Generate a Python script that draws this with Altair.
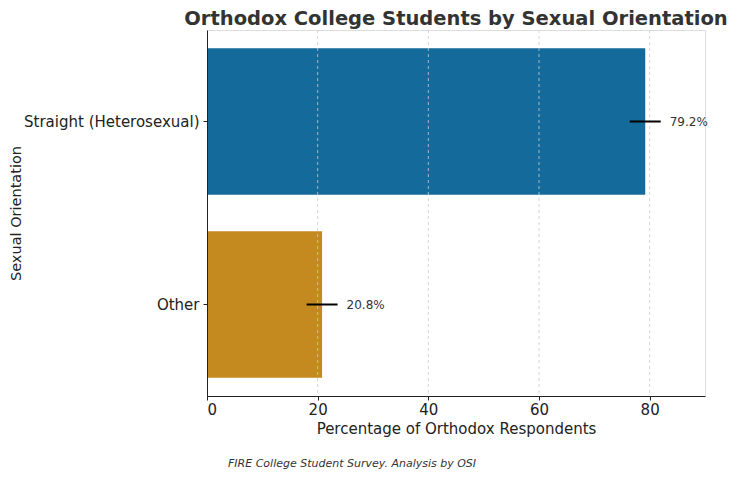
import altair as alt
import pandas as pd

categories = ["Straight (Heterosexual)", "Other"]
values = [79.2, 20.8]
errors = [2.8, 2.8]
colors = ["#146a9a", "#c4891f"]
labels = ["79.2%", "20.8%"]
x_ticks = [0, 20, 40, 60, 80]

df = pd.DataFrame({
    "cat": categories,
    "val": values,
    "lo": [v - e for v, e in zip(values, errors)],
    "hi": [v + e for v, e in zip(values, errors)],
    "label": labels,
})
grid_df = pd.DataFrame({"g": [t for t in x_ticks if t > 0]})

W, H = 498, 366
FONT = "DejaVu Sans"

y_enc = alt.Y(
    "cat:N",
    sort=categories,
    scale=alt.Scale(paddingInner=0.2, paddingOuter=0.1),
    axis=alt.Axis(
        title="Sexual Orientation",
        titleFontSize=14.5,
        titleFontWeight="normal",
        titleColor="#222",
        titlePadding=0,
        labelFontSize=15,
        labelColor="#222",
        labelPadding=4,
        tickSize=4,
        tickColor="#222",
        domainColor="#222",
        grid=False,
        zindex=2,
    ),
)

x_scale = alt.Scale(domain=[0, 90], nice=False)

bars = alt.Chart(df).mark_bar().encode(
    x=alt.X(
        "val:Q",
        scale=x_scale,
        axis=alt.Axis(
            title="Percentage of Orthodox Respondents",
            values=x_ticks,
            titleFontSize=15,
            titleFontWeight="normal",
            titleColor="#222",
            titlePadding=4,
            labelFontSize=15,
            labelColor="#222",
            labelPadding=2,
            tickSize=4,
            tickColor="#222",
            domainColor="#222",
            grid=False,
            zindex=2,
        ),
    ),
    y=y_enc,
    color=alt.Color("cat:N", scale=alt.Scale(domain=categories, range=colors), legend=None),
)

grid = alt.Chart(grid_df).mark_rule(
    color="#cccccc", strokeWidth=0.8, strokeDash=[3, 3]
).encode(x=alt.X("g:Q", scale=x_scale))

err = alt.Chart(df).mark_rule(color="black", strokeWidth=2).encode(
    x="lo:Q", x2="hi:Q", y=alt.Y("cat:N", sort=categories)
)

txt = alt.Chart(df).mark_text(
    align="left", baseline="middle", dx=9, fontSize=12, color="#333", font=FONT
).encode(x="hi:Q", y=alt.Y("cat:N", sort=categories), text="label:N")

footer = alt.Chart(pd.DataFrame({"t": ["FIRE College Student Survey. Analysis by OSI"]})).mark_text(
    align="left", baseline="alphabetic", fontSize=11, fontStyle="italic", color="#333", font=FONT
).encode(x=alt.value(21), y=alt.value(H + 71), text="t:N")

chart = alt.layer(bars, grid, err, txt, footer).properties(
    width=W,
    height=H,
    title=alt.TitleParams(
        "Orthodox College Students by Sexual Orientation",
        fontSize=19.5,
        fontWeight="bold",
        color="#333",
        font=FONT,
        anchor="middle",
        offset=0,
    ),
    autosize=alt.AutoSizeParams(type="none"),
    padding={"left": 199, "top": 22, "right": 27, "bottom": 75},
).configure_view(stroke=None).configure(font=FONT)

chart.save("out.html", embed_options={"renderer": "svg", "actions": False})
